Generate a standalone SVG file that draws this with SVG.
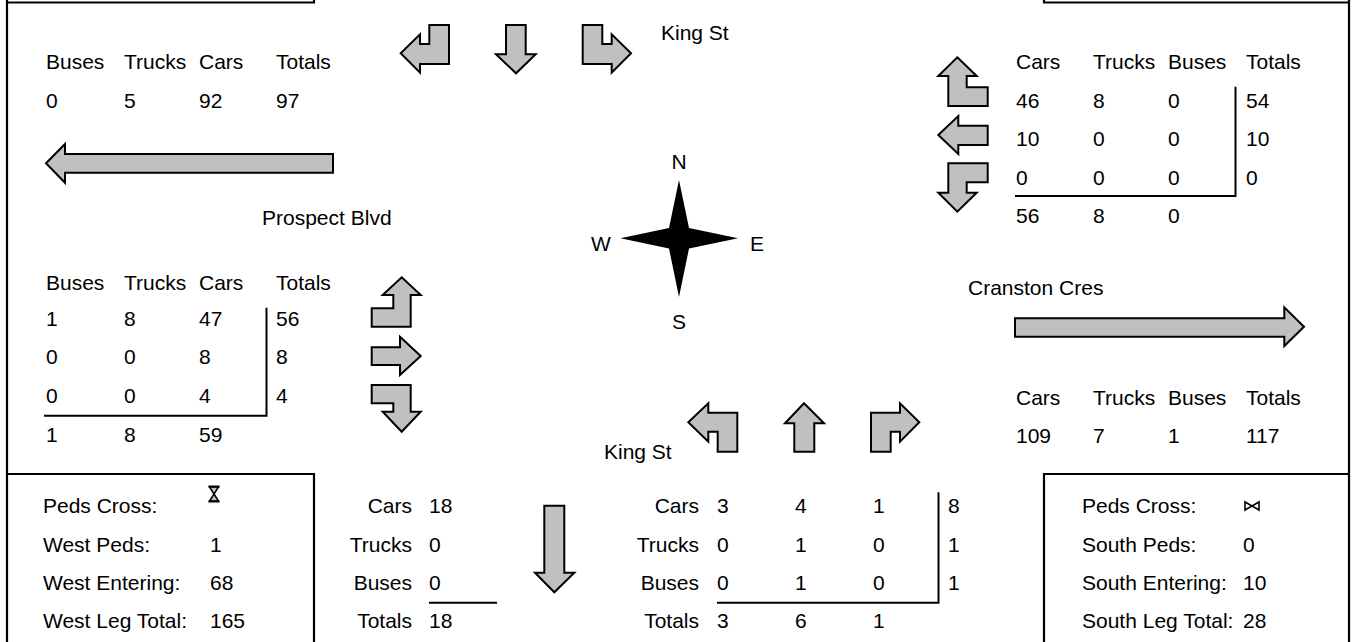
<svg xmlns="http://www.w3.org/2000/svg" width="1356" height="642" viewBox="0 0 1356 642">
<style>
text{font-family:"Liberation Sans",Arial,sans-serif;font-size:21px;fill:#000}
.e{text-anchor:end}
.m{text-anchor:middle}
.arr{fill:#c0c0c0;stroke:#000;stroke-width:2;stroke-linejoin:miter}
.ln{fill:none;stroke:#000;stroke-width:2}
.fr{fill:none;stroke:#000;stroke-width:2.2}
</style>
<rect width="1356" height="642" fill="#fff"/>
<g id="frame">
<line class="fr" x1="7" y1="0" x2="7" y2="642"/>
<line class="fr" x1="1349" y1="0" x2="1349" y2="642"/>
<polyline class="fr" points="7,2.5 314,2.5 314,0"/>
<polyline class="fr" points="1044,0 1044,2.5 1349,2.5"/>
<polyline class="fr" points="7,474 314,474 314,642"/>
<polyline class="fr" points="1349,474 1044,474 1044,642"/>
</g>
<g id="connectors">
<polygon class="arr" points="429.3,25 449,25 449,64 420,64 420,72.7 400.7,53.3 420,34.3 420,44 429.3,44"/>
<polygon class="arr" points="506,25 525.7,25 525.7,54.3 535.7,54.3 516,73.3 496,54.3 506,54.3"/>
<polygon class="arr" points="582.7,25 602.3,25 602.3,44 611.7,44 611.7,34.3 631,53.3 611.7,72.7 611.7,64 582.7,64"/>
<polygon class="arr" points="46,163.3 65,144 65,154 333,154 333,172.7 65,172.7 65,182.7"/>
<polygon class="arr" points="371.7,308.3 393.3,308.3 393.3,295 382.7,295 401.7,277.3 420.7,295 410.7,295 410.7,326.7 371.7,326.7"/>
<polygon class="arr" points="371.7,347.3 400,347.3 400,336.7 420.7,356 400,375 400,365 371.7,365"/>
<polygon class="arr" points="371.7,385 410.7,385 410.7,411.7 420.7,411.7 401.7,431.7 382.7,411.7 393.3,411.7 393.3,403.3 371.7,403.3"/>
<polygon class="arr" points="957.3,57.3 976.7,76 966.7,76 966.7,87.3 987.7,87.3 987.7,106 948.3,106 948.3,76 938.3,76"/>
<polygon class="arr" points="938.3,135 958.3,116 958.3,125.7 987.7,125.7 987.7,145 958.3,145 958.3,154"/>
<polygon class="arr" points="948.3,163.3 987.7,163.3 987.7,182.3 966.7,182.3 966.7,192.7 976.7,192.7 957.3,211.7 938.3,192.7 948.3,192.7"/>
<polygon class="arr" points="1015,318.3 1284.3,318.3 1284.3,307.3 1304,326.7 1284.3,346 1284.3,336.7 1015,336.7"/>
<polygon class="arr" points="688.3,422.3 708.3,403.3 708.3,412.7 737.3,412.7 737.3,451.7 717.7,451.7 717.7,431.7 708.3,431.7 708.3,441.7"/>
<polygon class="arr" points="804,403.3 824,423.3 814.3,423.3 814.3,451.7 794.3,451.7 794.3,423.3 785,423.3"/>
<polygon class="arr" points="871,412.7 900,412.7 900,403.3 919.3,422.3 900,441.7 900,431.7 890.7,431.7 890.7,451.7 871,451.7"/>
<polygon class="arr" points="544.3,505.7 564.3,505.7 564.3,572.7 574.3,572.7 554.3,592.3 535,572.7 544.3,572.7"/>
</g>
<g id="compass">
<polygon fill="#000" points="679,180 689,228 738,238.3 689,248.5 679,297 669,248.5 620.5,238.3 669,228"/>
<text class="m" x="679" y="169">N</text>
<text class="m" x="601" y="251">W</text>
<text class="m" x="757" y="251">E</text>
<text class="m" x="679" y="329">S</text>
</g>
<g id="north-exit">
<text x="46" y="69">Buses</text><text x="124" y="69">Trucks</text><text x="199" y="69">Cars</text><text x="276" y="69">Totals</text>
<text x="46" y="108">0</text><text x="124" y="108">5</text><text x="199" y="108">92</text><text x="276" y="108">97</text>
<text x="661" y="40">King St</text>
</g>
<g id="west-approach">
<text x="262" y="225">Prospect Blvd</text>
<text x="46" y="290">Buses</text><text x="124" y="290">Trucks</text><text x="199" y="290">Cars</text><text x="276" y="290">Totals</text>
<text x="46" y="326">1</text><text x="124" y="326">8</text><text x="199" y="326">47</text><text x="276" y="326">56</text>
<text x="46" y="364">0</text><text x="124" y="364">0</text><text x="199" y="364">8</text><text x="276" y="364">8</text>
<text x="46" y="403">0</text><text x="124" y="403">0</text><text x="199" y="403">4</text><text x="276" y="403">4</text>
<polyline class="ln" points="44,415.7 266.5,415.7 266.5,307.7"/>
<text x="46" y="442">1</text><text x="124" y="442">8</text><text x="199" y="442">59</text>
</g>
<g id="east-approach">
<text x="1016" y="69">Cars</text><text x="1093" y="69">Trucks</text><text x="1168" y="69">Buses</text><text x="1246" y="69">Totals</text>
<text x="1016" y="108">46</text><text x="1093" y="108">8</text><text x="1168" y="108">0</text><text x="1246" y="108">54</text>
<text x="1016" y="146">10</text><text x="1093" y="146">0</text><text x="1168" y="146">0</text><text x="1246" y="146">10</text>
<text x="1016" y="185">0</text><text x="1093" y="185">0</text><text x="1168" y="185">0</text><text x="1246" y="185">0</text>
<polyline class="ln" points="1015,196 1235.5,196 1235.5,86.7"/>
<text x="1016" y="223">56</text><text x="1093" y="223">8</text><text x="1168" y="223">0</text>
</g>
<g id="east-exit">
<text x="968" y="295">Cranston Cres</text>
<text x="1016" y="405">Cars</text><text x="1093" y="405">Trucks</text><text x="1168" y="405">Buses</text><text x="1246" y="405">Totals</text>
<text x="1016" y="443">109</text><text x="1093" y="443">7</text><text x="1168" y="443">1</text><text x="1246" y="443">117</text>
</g>
<g id="west-summary">
<text x="43" y="513">Peds Cross:</text>
<g fill="#c0c0c0" stroke="#000" stroke-width="1.5">
<polygon points="209.5,487 218.5,487 214,494"/>
<polygon points="214,494 218.5,501 209.5,501"/>
</g>
<line class="ln" x1="208.5" y1="486.5" x2="219.5" y2="486.5"/>
<line class="ln" x1="208.5" y1="501.5" x2="219.5" y2="501.5"/>
<text x="43" y="552">West Peds:</text><text x="210" y="552">1</text>
<text x="43" y="590">West Entering:</text><text x="210" y="590">68</text>
<text x="43" y="628">West Leg Total:</text><text x="210" y="628">165</text>
</g>
<g id="south-exit">
<text class="e" x="412" y="513">Cars</text><text x="429" y="513">18</text>
<text class="e" x="412" y="552">Trucks</text><text x="429" y="552">0</text>
<text class="e" x="412" y="590">Buses</text><text x="429" y="590">0</text>
<line class="ln" x1="429" y1="602.7" x2="497" y2="602.7"/>
<text class="e" x="412" y="628">Totals</text><text x="429" y="628">18</text>
</g>
<g id="south-approach">
<text x="604" y="459">King St</text>
<text class="e" x="699" y="513">Cars</text><text x="717" y="513">3</text><text x="795" y="513">4</text><text x="873" y="513">1</text><text x="948" y="513">8</text>
<text class="e" x="699" y="552">Trucks</text><text x="717" y="552">0</text><text x="795" y="552">1</text><text x="873" y="552">0</text><text x="948" y="552">1</text>
<text class="e" x="699" y="590">Buses</text><text x="717" y="590">0</text><text x="795" y="590">1</text><text x="873" y="590">0</text><text x="948" y="590">1</text>
<polyline class="ln" points="717,602.7 938.5,602.7 938.5,492.3"/>
<text class="e" x="699" y="628">Totals</text><text x="717" y="628">3</text><text x="795" y="628">6</text><text x="873" y="628">1</text>
</g>
<g id="south-summary">
<text x="1082" y="513">Peds Cross:</text>
<g fill="#fff" stroke="#000" stroke-width="1.6" stroke-linejoin="miter">
<polygon points="1245,502 1245,510 1252,506"/>
<polygon points="1259,502 1259,510 1252,506"/>
</g>
<text x="1082" y="552">South Peds:</text><text x="1243" y="552">0</text>
<text x="1082" y="590">South Entering:</text><text x="1243" y="590">10</text>
<text x="1082" y="628">South Leg Total:</text><text x="1243" y="628">28</text>
</g>
</svg>
